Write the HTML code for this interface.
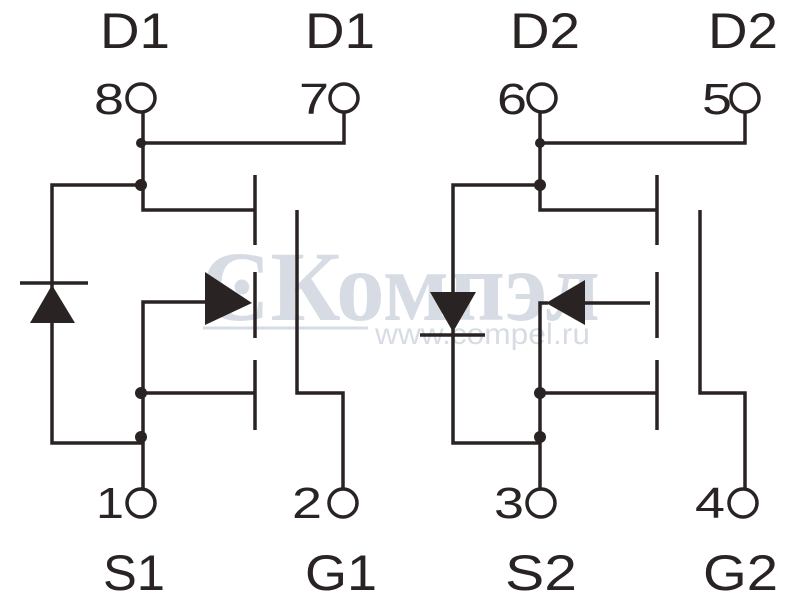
<!DOCTYPE html>
<html><head><style>
html,body{margin:0;padding:0;background:#fff;}
svg{display:block;}
text{font-family:"Liberation Sans",Arial,sans-serif;fill:#2a2323;}
</style></head><body>
<svg width="800" height="600" viewBox="0 0 800 600" xmlns="http://www.w3.org/2000/svg">
<!-- watermark -->
<g opacity="0.3">
<text x="200" y="320" font-size="100" font-weight="bold" textLength="400" lengthAdjust="spacingAndGlyphs" style="fill:#7d8fa8;font-family:'Liberation Serif',serif">ϾКомпэл</text>
<line x1="203" y1="328" x2="368" y2="328" stroke="#7d8fa8" stroke-width="3"/>
<text x="375" y="344" font-size="30" textLength="215" lengthAdjust="spacingAndGlyphs" style="fill:#7d8fa8">www.compel.ru</text>
</g>
<g font-size="50">
<text x="100" y="48" textLength="70" lengthAdjust="spacingAndGlyphs">D1</text>
<text x="305" y="48" textLength="70" lengthAdjust="spacingAndGlyphs">D1</text>
<text x="510" y="48" textLength="70" lengthAdjust="spacingAndGlyphs">D2</text>
<text x="708" y="48" textLength="70" lengthAdjust="spacingAndGlyphs">D2</text>
<text x="103" y="590" textLength="62" lengthAdjust="spacingAndGlyphs">S1</text>
<text x="305" y="590" textLength="72" lengthAdjust="spacingAndGlyphs">G1</text>
<text x="505" y="590" textLength="72" lengthAdjust="spacingAndGlyphs">S2</text>
<text x="703" y="590" textLength="75" lengthAdjust="spacingAndGlyphs">G2</text>
</g>
<g font-size="44">
<text x="94" y="114" textLength="30" lengthAdjust="spacingAndGlyphs">8</text><text x="299" y="114" textLength="30" lengthAdjust="spacingAndGlyphs">7</text>
<text x="497" y="114" textLength="30" lengthAdjust="spacingAndGlyphs">6</text><text x="702" y="114" textLength="30" lengthAdjust="spacingAndGlyphs">5</text>
<text x="96" y="518" textLength="28" lengthAdjust="spacingAndGlyphs">1</text><text x="292" y="518" textLength="30" lengthAdjust="spacingAndGlyphs">2</text>
<text x="494" y="518" textLength="30" lengthAdjust="spacingAndGlyphs">3</text><text x="695" y="518" textLength="30" lengthAdjust="spacingAndGlyphs">4</text>
</g>
<g fill="none" stroke="#2a2323" stroke-width="3.5">
<circle cx="141" cy="98" r="14"/><circle cx="344" cy="98" r="14"/>
<circle cx="542" cy="98" r="14"/><circle cx="745" cy="98" r="14"/>
<circle cx="141" cy="503" r="14"/><circle cx="343" cy="503" r="14"/>
<circle cx="541" cy="503" r="14"/><circle cx="743" cy="503" r="14"/>
<path d="M143 112 V210 H255"/>
<path d="M143 143 H344 V112"/>
<path d="M143 185 H52 V443 H143"/>
<path d="M20 283 H88"/>
<path d="M205 302 H143 V489"/>
<path d="M143 393 H255"/>
<path d="M255 175 V245 M255 272 V338 M255 360 V430"/>
<path d="M297 210 V393 H343 V489"/>
<path d="M540 112 V210 H657"/>
<path d="M540 143 H745 V112"/>
<path d="M540 185 H453 V443 H540"/>
<path d="M420 335 H485"/>
<path d="M585 303 H650"/>
<path d="M548 303 H540 V489"/>
<path d="M540 393 H657"/>
<path d="M657 175 V245 M657 272 V338 M657 360 V430"/>
<path d="M700 210 V393 H745 V489"/>
</g>
<g fill="#2a2323">
<circle cx="141" cy="185" r="6"/><circle cx="141" cy="143" r="5"/>
<circle cx="141" cy="393" r="6"/><circle cx="141" cy="437" r="6"/>
<circle cx="540" cy="185" r="6"/><circle cx="540" cy="143" r="5"/>
<circle cx="540" cy="393" r="6"/><circle cx="540" cy="437" r="6"/>
<polygon points="52,285 30,323 75,323"/>
<polygon points="205,272 205,325 252,303"/>
<polygon points="430,292 476,292 453,332"/>
<polygon points="585,280 585,325 546,303"/>
</g>
</svg>
</body></html>
